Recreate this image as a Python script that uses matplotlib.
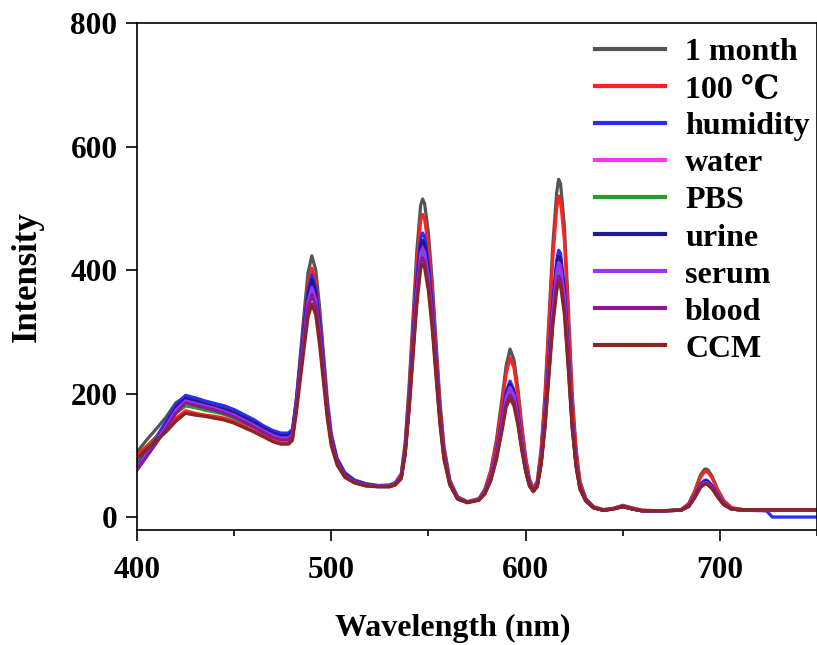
import numpy as np
import matplotlib
matplotlib.use("Agg")
import matplotlib.pyplot as plt
from matplotlib.ticker import MultipleLocator

# ─── data ───
wavelength = [
    400, 405, 410, 415, 420, 425, 430, 435, 440, 445, 450, 455, 460, 465, 470,
    474, 478, 480,
    482, 484, 486, 488, 490, 492, 494, 496, 498, 500, 503, 507, 512, 518, 524, 530,
    533, 536, 538, 540, 542, 544, 546, 547, 548, 550, 552, 554, 556, 558, 561, 565, 570,
    576, 579, 582, 585, 588, 590, 592, 594, 596, 598, 600, 602, 604, 606,
    608, 610, 612, 614, 616, 617, 618, 620, 622, 624, 626, 628, 631, 635,
    640, 645, 650, 655, 660, 670, 680, 684, 687, 690, 692, 693, 694, 696, 699, 702,
    706, 712, 724, 727, 735, 750,
]

one_month = [
    105, 125, 143, 162, 185, 195, 190, 183, 178, 172, 166, 158, 150, 140, 132,
    128, 128, 135,
    190, 260, 330, 395, 423, 400, 340, 265, 190, 135, 95, 72, 60, 54, 51, 52,
    56, 70, 120, 210, 320, 430, 505, 515, 508, 460, 380, 280, 185, 115, 60, 33, 25,
    30, 45, 75, 125, 195, 245, 272, 255, 210, 150, 98, 62, 46, 58,
    110, 200, 320, 440, 525, 547, 540, 470, 340, 200, 110, 58, 30, 17,
    12, 14, 19, 15, 11, 10, 12, 22, 42, 68, 77, 78, 76, 66, 44, 27,
    15, 12, 11, 11, 11, 11,
]
hot_100 = [
    100, 115, 130, 145, 160, 172, 168, 165, 163, 160, 155, 148, 140, 132, 124,
    120, 120, 127,
    182, 248, 315, 377, 403, 381, 324, 252, 181, 129, 91, 69, 58, 52, 50, 50,
    54, 68, 115, 200, 305, 410, 480, 490, 483, 438, 362, 267, 176, 110, 58, 32, 24,
    29, 43, 72, 119, 185, 232, 258, 242, 199, 143, 94, 60, 45, 56,
    105, 190, 305, 418, 499, 520, 513, 447, 323, 190, 105, 56, 29, 16,
    12, 14, 18, 14, 11, 10, 12, 21, 40, 64, 73, 74, 72, 63, 42, 26,
    15, 12, 11, 11, 11, 11,
]
humidity = [
    85, 108, 130, 155, 182, 197, 193, 188, 184, 180, 174, 166, 158, 148, 140,
    136, 136, 142,
    190, 250, 310, 366, 392, 371, 316, 247, 178, 130, 93, 70, 59, 53, 51, 51,
    54, 66, 110, 190, 287, 385, 451, 460, 454, 411, 340, 251, 166, 104, 56, 31, 24,
    28, 40, 64, 104, 162, 203, 220, 206, 171, 123, 82, 54, 43, 52,
    92, 163, 257, 350, 416, 432, 427, 372, 270, 161, 90, 49, 27, 15,
    11, 13, 17, 13, 10, 10, 11, 19, 34, 53, 59, 60, 58, 51, 35, 22,
    13, 11, 10, 0, 0, 0,
]
water = [
    88, 108, 128, 150, 175, 190, 186, 181, 177, 172, 166, 158, 150, 141, 133,
    129, 129, 135,
    182, 241, 299, 353, 378, 358, 305, 238, 172, 125, 90, 68, 57, 52, 50, 50,
    53, 65, 106, 182, 275, 368, 431, 440, 434, 393, 325, 240, 159, 100, 54, 30, 24,
    28, 39, 61, 98, 151, 189, 205, 192, 159, 115, 78, 52, 42, 50,
    88, 154, 242, 329, 390, 405, 400, 349, 254, 152, 85, 47, 26, 15,
    11, 13, 17, 13, 10, 10, 11, 18, 32, 49, 54, 55, 53, 47, 32, 20,
    13, 11, 11, 11, 11, 11,
]
pbs = [
    92, 110, 128, 148, 168, 180, 177, 173, 170, 166, 160, 153, 146, 138, 130,
    126, 126, 132,
    178, 235, 291, 344, 368, 348, 297, 232, 168, 122, 89, 67, 57, 52, 50, 50,
    53, 64, 104, 178, 268, 358, 420, 428, 423, 383, 316, 234, 155, 97, 53, 30, 24,
    28, 38, 60, 96, 148, 185, 200, 188, 156, 113, 77, 51, 42, 50,
    87, 151, 238, 323, 383, 398, 393, 343, 250, 149, 84, 46, 26, 15,
    11, 13, 17, 13, 10, 10, 11, 18, 32, 49, 54, 55, 53, 47, 32, 20,
    13, 11, 11, 11, 11, 11,
]
urine = [
    82, 104, 126, 150, 177, 192, 188, 183, 179, 175, 169, 161, 153, 144, 136,
    132, 132, 138,
    185, 246, 305, 360, 385, 364, 310, 242, 175, 127, 92, 69, 58, 53, 50, 50,
    53, 65, 108, 186, 280, 375, 439, 448, 442, 400, 331, 245, 162, 102, 55, 30, 24,
    28, 40, 63, 102, 158, 198, 215, 201, 167, 120, 81, 53, 43, 51,
    90, 160, 252, 342, 406, 422, 417, 363, 264, 158, 88, 48, 27, 15,
    11, 13, 17, 13, 10, 10, 11, 18, 33, 51, 57, 58, 56, 49, 34, 21,
    13, 11, 11, 11, 11, 11,
]
serum = [
    80, 102, 124, 147, 173, 188, 184, 180, 176, 171, 165, 157, 149, 140, 132,
    128, 128, 134,
    180, 238, 294, 348, 372, 352, 300, 234, 170, 123, 89, 67, 57, 52, 50, 50,
    53, 64, 105, 180, 272, 364, 427, 435, 429, 389, 321, 237, 157, 99, 54, 30, 24,
    28, 39, 62, 100, 155, 194, 210, 197, 163, 118, 79, 52, 42, 51,
    89, 156, 246, 334, 396, 412, 407, 355, 258, 154, 86, 47, 26, 15,
    11, 13, 17, 13, 10, 10, 11, 18, 32, 50, 55, 56, 54, 48, 33, 21,
    13, 11, 11, 11, 11, 11,
]
blood = [
    76, 98, 120, 143, 168, 185, 181, 177, 173, 168, 162, 154, 146, 137, 129,
    125, 125, 131,
    175, 230, 285, 337, 360, 341, 290, 227, 165, 120, 87, 66, 56, 51, 49, 49,
    52, 63, 102, 175, 263, 351, 412, 420, 414, 375, 310, 229, 152, 96, 53, 29, 24,
    28, 38, 59, 95, 146, 183, 198, 186, 154, 112, 76, 51, 42, 50,
    86, 148, 233, 317, 375, 390, 385, 336, 245, 146, 83, 46, 26, 15,
    11, 13, 17, 13, 10, 10, 11, 17, 31, 48, 53, 54, 52, 46, 32, 20,
    13, 11, 11, 11, 11, 11,
]
ccm = [
    95, 110, 124, 138, 155, 168, 165, 163, 160, 157, 152, 145, 138, 130, 122,
    118, 118, 124,
    168, 221, 273, 323, 345, 327, 278, 218, 158, 115, 84, 64, 55, 50, 49, 49,
    52, 62, 100, 171, 257, 343, 402, 410, 404, 366, 303, 224, 148, 93, 52, 29, 23,
    27, 37, 58, 93, 142, 178, 192, 180, 150, 109, 74, 50, 41, 49,
    84, 145, 228, 309, 366, 380, 375, 328, 239, 143, 81, 45, 26, 15,
    11, 13, 17, 13, 10, 10, 11, 17, 31, 48, 53, 54, 52, 46, 32, 20,
    13, 12, 12, 12, 12, 12,
]

labels = ["1 month", "100 \u2103", "humidity", "water", "PBS",
          "urine", "serum", "blood", "CCM"]
series = [one_month, hot_100, humidity, water, pbs, urine, serum, blood, ccm]
colors = ["#555555", "#ff2222", "#2b2bff", "#ff33ff", "#2a9a2a",
          "#1c1c8c", "#9933ff", "#8b1a8b", "#8b2525"]

plt.rcParams["font.family"] = ["Liberation Serif", "DejaVu Serif"]
plt.rcParams["font.weight"] = "bold"

fig = plt.figure(figsize=(8.17, 6.45), dpi=100)
ax = fig.add_axes([137 / 817, 1 - 530 / 645, 1 - 137 / 817, (530 - 23) / 645])

for ys, lab, c in zip(series, labels, colors):
    ax.plot(wavelength, ys, color=c, lw=2.3, label=lab)

ax.set_xlim(400, 750)
ax.set_ylim(-21, 800)
ax.xaxis.set_major_locator(MultipleLocator(100))
ax.xaxis.set_minor_locator(MultipleLocator(50))
ax.yaxis.set_major_locator(MultipleLocator(200))

for s in ax.spines.values():
    s.set_linewidth(1.2)
ax.tick_params(axis="both", which="major", direction="out", length=8, width=1.2,
               labelsize=22.5, pad=6)
ax.tick_params(axis="x", which="major", pad=11)
ax.tick_params(axis="x", which="minor", direction="out", length=4.5, width=1.2)
for t in ax.get_xticklabels() + ax.get_yticklabels():
    t.set_fontweight("bold")

# the original figure was cropped on the right, so the x label sits left of centre
ax.set_xlabel("Wavelength (nm)", fontsize=23, fontweight="bold")
ax.xaxis.set_label_coords((453 - 137) / 680, -(628 - 530) / 507)
ax.xaxis.label.set_va("center")
ax.set_ylabel("Intensity", fontsize=25, fontweight="bold", labelpad=19)

leg = ax.legend(loc="upper left", bbox_to_anchor=(595 / 817, 1 - 38 / 645),
                bbox_transform=fig.transFigure, frameon=False, fontsize=23,
                handlelength=2.2, handletextpad=0.62, labelspacing=0.24,
                borderpad=0, borderaxespad=0)
for line in leg.get_lines():
    line.set_linewidth(3)

fig.savefig("out.png", dpi=100)
